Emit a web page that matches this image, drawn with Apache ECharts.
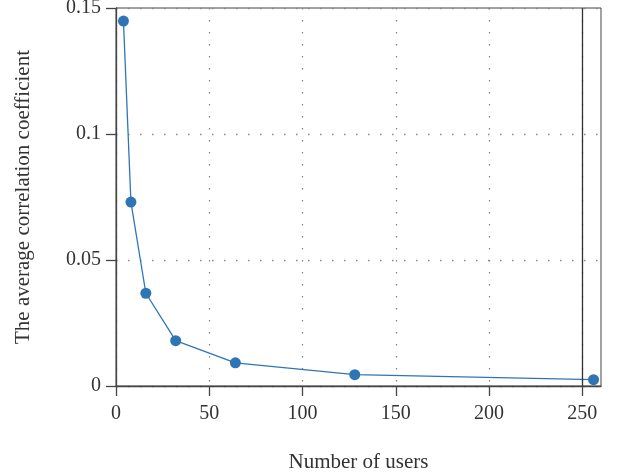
<!DOCTYPE html>
<html>
<head>
<meta charset="utf-8">
<script src="https://cdn.jsdelivr.net/npm/echarts@6/dist/echarts.min.js"></script>
<style>html,body{margin:0;padding:0;background:#fff}#c{width:620px;height:476px}</style>
</head>
<body>
<div id="c"></div>
<script>
var users = [4, 8, 16, 32, 64, 128, 256];
var avgCorr = [0.1448, 0.0730, 0.0368, 0.0180, 0.0092, 0.0045, 0.0025];
var xTicks = [0, 50, 100, 150, 200, 250];
var yTicks = [0, 0.05, 0.1, 0.15];
var xTitle = 'Number of users';
var yTitle = 'The average correlation coefficient';

var font = 'Liberation Serif';
var chart = echarts.init(document.getElementById('c'), null, {renderer: 'canvas'});
chart.setOption({
  animation: false,
  grid: {left: 116, right: 19, top: 8, bottom: 90, show: true, borderColor: '#444', borderWidth: 1,
    backgroundColor: 'transparent', containLabel: false, outerBoundsMode: 'none'},
  xAxis: {
    type: 'value', min: 0, max: 260, interval: 50,
    name: xTitle, nameLocation: 'middle', nameGap: 66,
    nameTextStyle: {fontFamily: font, fontSize: 21, color: '#333'},
    axisLine: {show: true, lineStyle: {color: '#444', width: 1.3}},
    axisTick: {show: true, inside: false, length: 10, customValues: xTicks, lineStyle: {color: '#444', width: 1.3}},
    axisLabel: {customValues: xTicks, fontFamily: font, fontSize: 20, color: '#333', margin: 18},
    splitLine: {show: true, lineStyle: {color: '#888', type: [1.5, 10.5], width: 1.3}}
  },
  yAxis: {
    type: 'value', min: 0, max: 0.15, interval: 0.05,
    name: yTitle, nameLocation: 'middle', nameGap: 82, nameRotate: 90,
    nameTextStyle: {fontFamily: font, fontSize: 21, color: '#333'},
    axisLine: {show: true, lineStyle: {color: '#444', width: 1.3}},
    axisTick: {show: true, inside: false, length: 10, lineStyle: {color: '#444', width: 1.3}},
    axisLabel: {fontFamily: font, fontSize: 20, color: '#333', margin: 15,
      formatter: function (v) { return String(+v.toFixed(2)); }},
    splitLine: {show: true, lineStyle: {color: '#888', type: [1.5, 10.5], width: 1.3}}
  },
  series: [{
    type: 'line',
    data: users.map(function (u, i) { return [u, avgCorr[i]]; }),
    symbol: 'circle', symbolSize: 11,
    itemStyle: {color: '#2e75b6'},
    lineStyle: {color: '#2e75b6', width: 1.3},
    markLine: {
      silent: true, symbol: 'none', label: {show: false},
      lineStyle: {color: '#333', type: 'solid', width: 1.3},
      data: [{xAxis: 250}]
    }
  }]
});
</script>
</body>
</html>
